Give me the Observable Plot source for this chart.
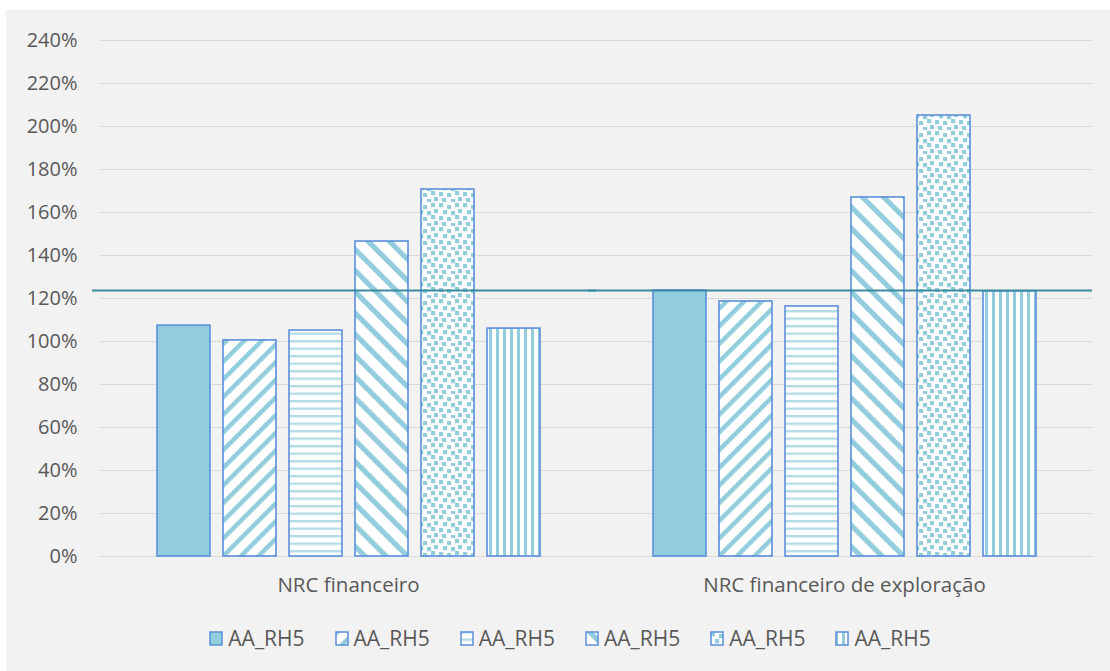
<!DOCTYPE html>
<html>
<head>
<meta charset="utf-8">
<script src="https://cdn.jsdelivr.net/npm/d3@7"></script>
<script src="https://cdn.jsdelivr.net/npm/@observablehq/plot@0.6"></script>
<style>
  html, body { margin: 0; padding: 0; background: #ffffff; }
  #box { position: absolute; left: 6px; top: 10px; width: 1104px; height: 661px; background: #f2f2f2; font-family: "Open Sans", sans-serif; }
  #legend { display: flex; justify-content: center; align-items: center; margin-top: 14px; font-size: 21px; color: #595959; padding-left: 24px; }
  .item { display: flex; align-items: center; margin: 0 15px; }
  .item svg { margin-right: 5px; }
  #chart svg g[aria-label="fx-axis tick label"] text { font-size: 20.5px; }
</style>
</head>
<body>
<div id="box">
  <div id="chart"></div>
  <div id="legend"></div>
</div>
<script>
// ---- data ----
const categories = ["NRC financeiro", "NRC financeiro de exploração"];
const seriesNames = ["AA_RH5", "AA_RH5", "AA_RH5", "AA_RH5", "AA_RH5", "AA_RH5"];
const valuesNrcFinanceiro = [107.4, 100.5, 105.1, 146.5, 170.7, 106.0];
const valuesNrcExploracao = [123.7, 118.6, 116.3, 167.0, 205.1, 123.3];
const referenceLine = [123.7];
const yTicks = [0, 20, 40, 60, 80, 100, 120, 140, 160, 180, 200, 220, 240];

const patternIds = ["p-solid", "p-up", "p-horiz", "p-down", "p-dots", "p-vert"];
const seriesValues = [valuesNrcFinanceiro, valuesNrcExploracao];
const data = categories.flatMap((c, i) =>
  seriesValues[i].map((v, j) => ({cat: c, s: j, v, fill: `url(#${patternIds[j]})`}))
);

const BLUE = "#93cddd";
const EDGE = "#5b8fd9";

const chart = Plot.plot({
  width: 1104,
  height: 600,
  marginTop: 30,
  marginBottom: 54,
  marginLeft: 94,
  marginRight: 18,
  style: {background: "transparent", fontFamily: "Open Sans", fontSize: "20px", color: "#595959"},
  fx: {domain: categories, padding: 0, label: null, tickSize: 0, tickPadding: 21},
  x: {domain: d3.range(seriesNames.length), paddingInner: 0.2, paddingOuter: 0.843, axis: null},
  y: {domain: [0, 240], ticks: yTicks, tickFormat: d => d + "%", tickSize: 0, tickPadding: 23, label: null},
  color: {type: "identity"},
  marks: [
    Plot.ruleY(yTicks, {stroke: "#d9d9d9", strokeWidth: 1}),
    Plot.barY(data, {fx: "cat", x: "s", y: "v", fill: "fill", stroke: EDGE, strokeWidth: 1.6}),
    Plot.ruleY(referenceLine, {stroke: "#3a8aa0", strokeWidth: 2, insetLeft: -8})
  ]
});

// pattern definitions
function addDefs(svgSel) {
  const defs = svgSel.insert("defs", ":first-child");
  const s = defs.append("pattern").attr("id", "p-solid").attr("patternUnits", "userSpaceOnUse").attr("width", 8).attr("height", 8);
  s.append("rect").attr("width", 8).attr("height", 8).attr("fill", BLUE);
  const u = defs.append("pattern").attr("id", "p-up").attr("patternUnits", "userSpaceOnUse").attr("width", 12.5).attr("height", 12.5).attr("patternTransform", "rotate(45)");
  u.append("rect").attr("width", 12.5).attr("height", 12.5).attr("fill", "#ffffff");
  u.append("rect").attr("x", 0).attr("width", 4.5).attr("height", 12.5).attr("fill", BLUE);
  const h = defs.append("pattern").attr("id", "p-horiz").attr("patternUnits", "userSpaceOnUse").attr("width", 8).attr("height", 7.5);
  h.append("rect").attr("width", 8).attr("height", 7.5).attr("fill", "#ffffff");
  h.append("rect").attr("y", 0).attr("width", 8).attr("height", 2.4).attr("fill", "#b4dce7");
  const dn = defs.append("pattern").attr("id", "p-down").attr("patternUnits", "userSpaceOnUse").attr("width", 15).attr("height", 15).attr("patternTransform", "rotate(-45)");
  dn.append("rect").attr("width", 15).attr("height", 15).attr("fill", "#ffffff");
  dn.append("rect").attr("x", 0).attr("width", 5.2).attr("height", 15).attr("fill", BLUE);
  const dt = defs.append("pattern").attr("id", "p-dots").attr("patternUnits", "userSpaceOnUse").attr("width", 24).attr("height", 24);
  dt.append("rect").attr("width", 24).attr("height", 24).attr("fill", "#ffffff");
  [[1,1],[9,3],[17,1],[5,8],[13,9],[20,7],[1,14],[9,15],[17,13],[4,20],[13,21],[20,19]].forEach(([x, y]) =>
    dt.append("rect").attr("x", x).attr("y", y).attr("width", 4.2).attr("height", 4.2).attr("fill", BLUE));
  const v = defs.append("pattern").attr("id", "p-vert").attr("patternUnits", "userSpaceOnUse").attr("width", 7).attr("height", 8);
  v.append("rect").attr("width", 7).attr("height", 8).attr("fill", "#ffffff");
  v.append("rect").attr("x", 0).attr("width", 3).attr("height", 8).attr("fill", BLUE);
}
addDefs(d3.select(chart));
document.getElementById("chart").appendChild(chart);

// legend
const legend = d3.select("#legend");
seriesNames.forEach((name, j) => {
  const it = legend.append("div").attr("class", "item");
  const sw = it.append("svg").attr("width", 14).attr("height", 15);
  sw.append("rect").attr("x", 1).attr("y", 1).attr("width", 12).attr("height", 13)
    .attr("fill", `url(#${patternIds[j]})`).attr("stroke", EDGE).attr("stroke-width", 1.5);
  it.append("span").text(name);
});
</script>
</body>
</html>
